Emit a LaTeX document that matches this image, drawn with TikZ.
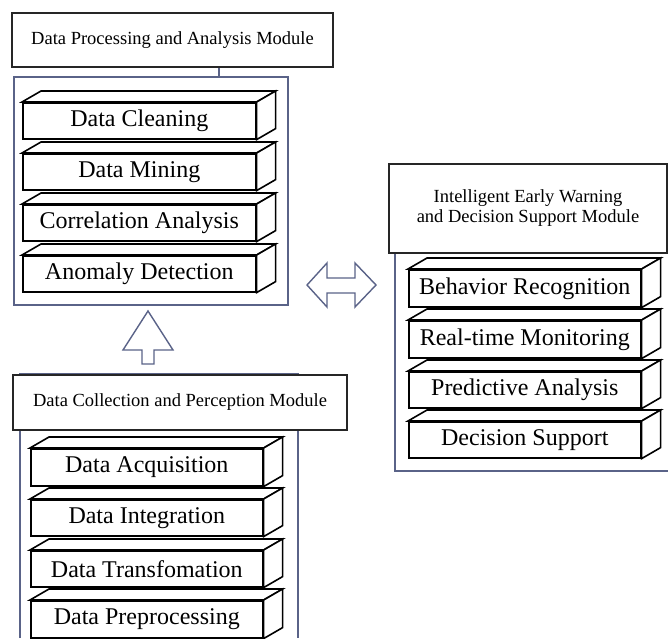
\documentclass[tikz,border=0pt]{standalone}
\usepackage{fontspec}
\setmainfont{Liberation Serif}
\definecolor{framec}{HTML}{5A6388}
\tikzset{
  titlebox/.style={draw=black!85, line width=1.5pt, fill=white, inner sep=0pt, align=center,
     font=\fontsize{18.5}{20}\selectfont},
  frontface/.style={draw=black, line width=1.6pt, fill=white, inner sep=0pt,
     font=\fontsize{24}{26}\selectfont},
  face/.style={draw=black, line width=1.6pt, fill=white, line join=miter},
  frameline/.style={draw=framec, line width=1.6pt},
  blockarrow/.style={draw=framec, line width=1.4pt, fill=white, line join=miter},
}
\newcommand\mycube[6]{%
  \node[frontface, anchor=north west, minimum width={#4-#2}, minimum height={#5-#3}] (#1) at (#2,#3) {#6};
  \draw[face] (#1.north west) -- ++(19,-11) -- ([shift={(19,-11)}]#1.north east) -- (#1.north east) -- cycle;
  \draw[face] (#1.north east) -- ++(19,-11) -- ([shift={(19,-11)}]#1.south east) -- (#1.south east) -- cycle;
}
\begin{document}
\begin{tikzpicture}[x=1pt,y=-1pt]
\useasboundingbox[fill=white] (0,0) rectangle (668,638);
% containers
\draw[frameline] (14,77) rectangle (288,305);
\draw[frameline] (20,638) -- (20,374) -- (298,374) -- (298,638);
\draw[frameline] (395,253) -- (395,471) -- (668,471);
% titles
\node[titlebox, minimum width=321, minimum height=54] (t1) at (172.5,40) {Data Processing and Analysis Module};
\node[titlebox, minimum width=278, minimum height=89] (t2) at (528,208.5) {Intelligent Early Warning\\and Decision Support Module};
\node[titlebox, minimum width=334, minimum height=55] (t3) at (180,402.5) {Data Collection and Perception Module};
\coordinate (c1) at (219,77);
\draw[frameline] (t1.south -| c1) -- (c1);
% top module boxes
\mycube{a1}{22}{102}{255}{138}{Data Cleaning}
\mycube{a2}{22}{153}{255}{189}{Data Mining}
\mycube{a3}{22}{204}{255}{240}{Correlation Analysis}
\mycube{a4}{22}{255}{255}{291}{Anomaly Detection}
% bottom module boxes
\mycube{b1}{30}{448}{262}{485}{Data Acquisition}
\mycube{b2}{30}{499}{262}{535}{Data Integration}
\mycube{b3}{30}{550}{262}{586}{Data Transfomation}
\mycube{b4}{30}{600}{262}{637}{Data Preprocessing}
% right module boxes
\mycube{r1}{408}{269}{640}{306}{Behavior Recognition}
\mycube{r2}{408}{320}{640}{357}{Real-time Monitoring}
\mycube{r3}{408}{371}{640}{407}{Predictive Analysis}
\mycube{r4}{408}{421}{640}{457}{Decision Support}
% block arrows
\draw[blockarrow] (148,311) -- (173,350) -- (154,350) -- (154,364) -- (142,364) -- (142,350) -- (123,350) -- cycle;
\draw[blockarrow] (307,285) -- (327,263) -- (327,278) -- (355,278) -- (355,263) -- (376,285) -- (355,307) -- (355,293) -- (327,293) -- (327,307) -- cycle;
\end{tikzpicture}
\end{document}
